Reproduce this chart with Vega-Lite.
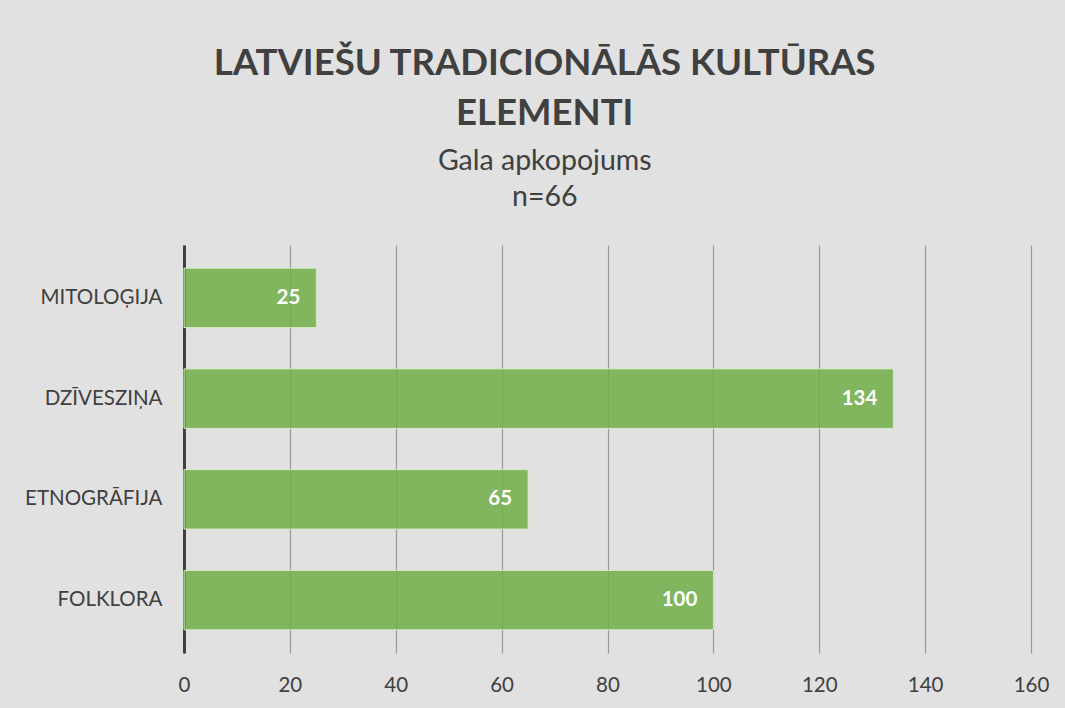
{
  "$schema": "https://vega.github.io/schema/vega-lite/v6.json",
  "width": 847,
  "height": 408,
  "autosize": {"type": "none"},
  "padding": {"left": 184, "top": 245, "right": 34, "bottom": 55},
  "background": "#e1e1e1",
  "config": {
    "view": {"stroke": null},
    "font": "Lato"
  },
  "title": {
    "text": ["LATVIEŠU TRADICIONĀLĀS KULTŪRAS", "ELEMENTI"],
    "subtitle": ["Gala apkopojums", "n=66"],
    "anchor": "middle",
    "frame": "bounds",
    "dx": 8,
    "font": "Lato",
    "fontSize": 36.5,
    "fontWeight": "bold",
    "color": "#404040",
    "lineHeight": 50,
    "subtitleFont": "Lato",
    "subtitleFontSize": 28.5,
    "subtitleColor": "#404040",
    "subtitleLineHeight": 36,
    "subtitlePadding": 14,
    "offset": 34
  },
  "data": {
    "values": [
      {"kategorija": "MITOLOĢIJA", "skaits": 25},
      {"kategorija": "DZĪVESZIŅA", "skaits": 134},
      {"kategorija": "ETNOGRĀFIJA", "skaits": 65},
      {"kategorija": "FOLKLORA", "skaits": 100}
    ]
  },
  "encoding": {
    "y": {
      "field": "kategorija",
      "type": "nominal",
      "sort": null,
      "scale": {"paddingInner": 0.41, "paddingOuter": 0.23},
      "axis": {
        "title": null,
        "ticks": false,
        "domain": true,
        "domainColor": "#404040",
        "domainWidth": 3,
        "labelFont": "Lato",
        "labelFontSize": 20.5,
        "labelColor": "#404040",
        "labelPadding": 22
      }
    },
    "x": {
      "field": "skaits",
      "type": "quantitative",
      "scale": {"domain": [0, 160]},
      "axis": {
        "title": null,
        "values": [0, 20, 40, 60, 80, 100, 120, 140, 160],
        "ticks": false,
        "domain": false,
        "grid": true,
        "gridColor": "#999999",
        "gridWidth": 1.2,
        "labelFlush": false,
        "labelFont": "Lato",
        "labelFontSize": 20.5,
        "labelColor": "#404040",
        "labelPadding": 22
      }
    }
  },
  "layer": [
    {
      "mark": {"type": "bar", "fill": "#70ad47", "fillOpacity": 0.85, "stroke": "#d6e9c8", "strokeWidth": 1}
    },
    {
      "mark": {"type": "text", "align": "right", "dx": -16, "font": "Lato", "fontSize": 20.5, "fontWeight": "bold", "color": "#ffffff"},
      "encoding": {"text": {"field": "skaits", "type": "quantitative"}}
    }
  ]
}
